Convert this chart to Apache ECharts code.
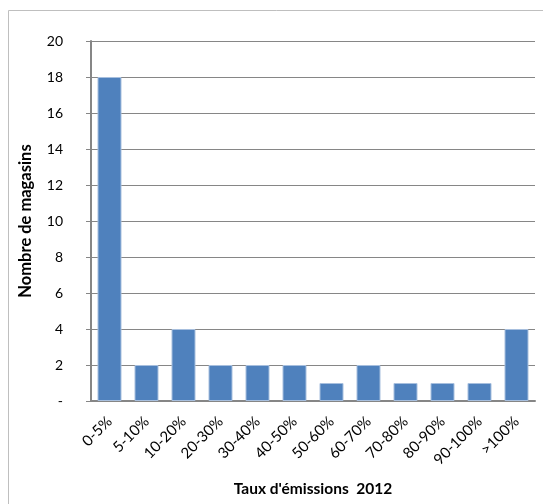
<!DOCTYPE html>
<html><head><meta charset="utf-8">
<script src="https://cdn.jsdelivr.net/npm/echarts@6/dist/echarts.min.js"></script>
<style>html,body{margin:0;padding:0;background:#fff}#c{width:543px;height:504px}</style>
</head><body><div id="c"></div>
<script>
const categories = ['0-5%','5-10%','10-20%','20-30%','30-40%','40-50%','50-60%','60-70%','70-80%','80-90%','90-100%','>100%'];
const counts = [18,2,4,2,2,2,1,2,1,1,1,4];
const xTitle = "Taux d'émissions  2012";
const yTitle = 'Nombre de magasins';
const font = 'Lato, "Open Sans", sans-serif';
const chart = echarts.init(document.getElementById('c'), null, {renderer:'canvas'});
chart.setOption({
  animation:false,
  backgroundColor:'#fff',
  graphic:[{type:'rect', shape:{x:8.5,y:10.5,width:600,height:600}, style:{fill:'none',stroke:'#bfbfbf',lineWidth:1}, z:-1}],
  grid:{left:91, top:41, right:8, bottom:103},
  xAxis:{type:'category', data:categories,
    axisLine:{lineStyle:{color:'#868686',width:2}}, axisTick:{show:false},
    axisLabel:{rotate:45, fontFamily:font, fontSize:15, color:'#000', margin:18, interval:0},
    name:xTitle, nameLocation:'middle', nameGap:80,
    nameTextStyle:{fontFamily:font, fontWeight:'bold', fontSize:15.5, color:'#000'}},
  yAxis:{type:'value', min:0, max:20, interval:2,
    axisLine:{show:true, lineStyle:{color:'#868686',width:2}},
    axisTick:{show:true, length:5, lineStyle:{color:'#868686'}},
    splitLine:{lineStyle:{color:'#868686',width:1}},
    axisLabel:{fontFamily:font, fontSize:14, color:'#000', margin:28, align:'right',
      formatter:v=>v===0?'-':String(v)},
    name:yTitle, nameLocation:'middle', nameGap:57,
    nameTextStyle:{fontFamily:font, fontWeight:'bold', fontSize:16.5, color:'#000'}},
  series:[{type:'bar', data:counts, barWidth:24,
    itemStyle:{color:'#4F81BD', borderColor:'#a7bfde', borderWidth:1}}]
});
</script></body></html>
